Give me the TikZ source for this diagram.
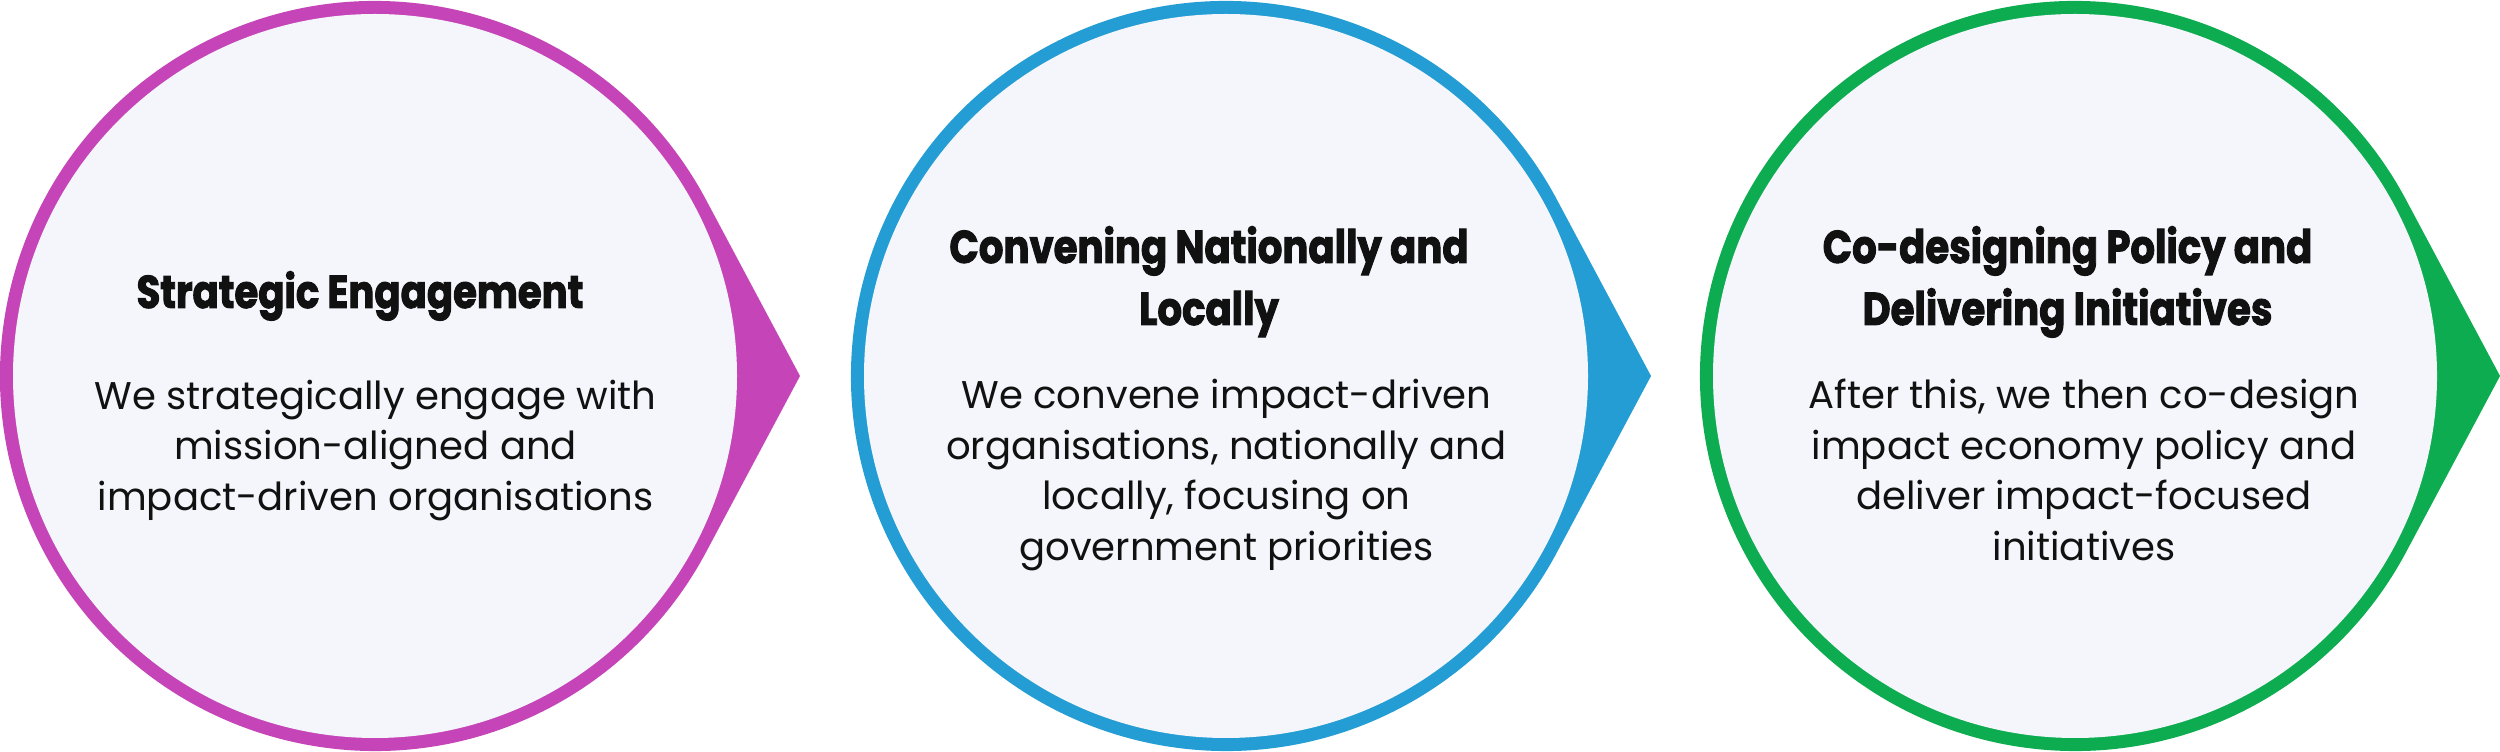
\documentclass[tikz,border=0pt]{standalone}
\usepackage{fontspec}
\setmainfont{Poppins}
\newfontfamily\ttlfont{Poppins}[FakeStretch=0.84, FakeBold=2]
\definecolor{cmag}{HTML}{C545B8}
\definecolor{cblue}{HTML}{239DD3}
\definecolor{cgreen}{HTML}{0EAC50}
\definecolor{cfill}{HTML}{F5F6FC}
\definecolor{ctext}{HTML}{111111}
\tikzset{
  ttl/.style={inner sep=0pt, anchor=base, align=center, text=ctext,
    font=\ttlfont\bfseries\fontsize{46}{62}\selectfont},
  bodytxt/.style={inner sep=0pt, anchor=base, align=center, text=ctext,
    font=\fontsize{38.6}{50.5}\selectfont},
}
\newcommand{\drop}[2]{%
  \fill[#2] (#1,376) ++(28.07:375) arc[start angle=28.07, end angle=331.93, radius=375] -- (#1+425,376) -- cycle;
  \fill[cfill] (#1,376) circle[radius=362];
}
\begin{document}
\begin{tikzpicture}[x=1pt,y=1pt]
\useasboundingbox (0,0) rectangle (2500,752);
\drop{375}{cmag}
\drop{1226}{cblue}
\drop{2075}{cgreen}
% circle 1 (anchor = baseline of last line)
\node[ttl] (t1) at (360,{752-308}) {Strategic Engagement};
\node[bodytxt] (b1) at (375.5,{752-510.5}) {We strategically engage with\\mission-aligned and\\impact-driven organisations};
% circle 2
\node[ttl] (t2) at (1209,{752-325}) {Convening Nationally and\\Locally};
\node[bodytxt] (b2) at (1226.5,{752-560.5}) {We convene impact-driven\\organisations, nationally and\\locally, focusing on\\government priorities};
% circle 3
\node[ttl] (t3) at (2067.5,{752-325}) {Co-designing Policy and\\Delivering Initiatives};
\node[bodytxt] (b3) at (2084,{752-560.5}) {After this, we then co-design\\impact economy policy and\\deliver impact-focused\\initiatives};
\end{tikzpicture}
\end{document}
